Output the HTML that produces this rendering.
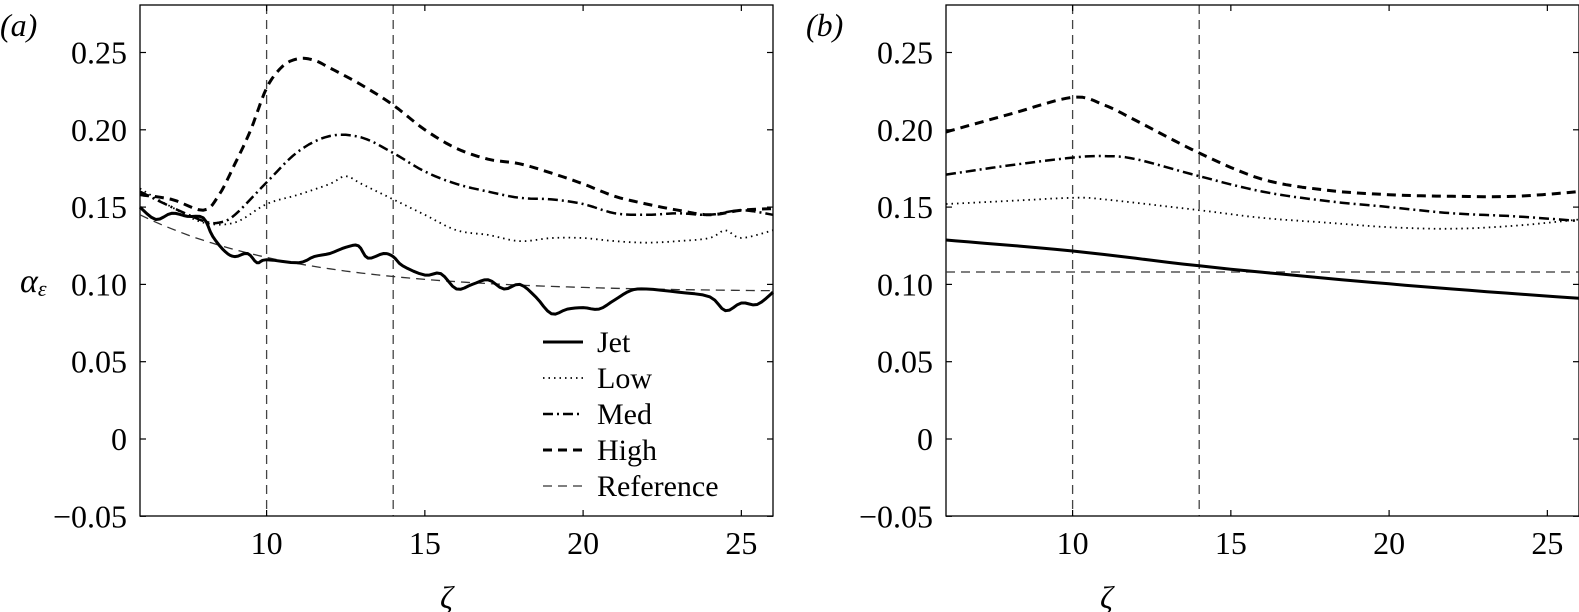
<!DOCTYPE html>
<html><head><meta charset="utf-8"><style>
html,body{margin:0;padding:0;background:#fff;}
svg{display:block;}
svg text{font-family:"Liberation Serif","Times New Roman",serif !important;fill:#000;}
</style></head><body>
<svg id="s" width="1579" height="612" xmlns="http://www.w3.org/2000/svg" font-family="Liberation Serif, serif" style="font-family:'Liberation Serif',serif">
<g font-size="32">
<text x="0" y="36" font-style="italic">(a)</text>
<text x="806" y="36" font-style="italic">(b)</text>
<text x="20" y="292" font-style="italic" font-size="34">α<tspan font-size="22" dy="4">ε</tspan></text>
<text x="440" y="608" font-style="italic">ζ</text>
<text x="1100" y="608" font-style="italic">ζ</text>
</g>
<g id="g"></g>
<g font-size="30">
<line x1="543" y1="342" x2="583" y2="342" stroke="#000" stroke-width="3"/>
<line x1="543" y1="378" x2="583" y2="378" stroke="#000" stroke-width="1.8" stroke-dasharray="1.5 4"/>
<line x1="543" y1="414" x2="583" y2="414" stroke="#000" stroke-width="2.5" stroke-dasharray="10 4 2 4"/>
<line x1="543" y1="450" x2="583" y2="450" stroke="#000" stroke-width="3" stroke-dasharray="9 6"/>
<line x1="543" y1="486" x2="583" y2="486" stroke="#333" stroke-width="1.3" stroke-dasharray="9 6"/>
<text x="597" y="352">Jet</text>
<text x="597" y="388">Low</text>
<text x="597" y="424">Med</text>
<text x="597" y="460">High</text>
<text x="597" y="496">Reference</text>
</g>
</svg>
<script>
var NS="http://www.w3.org/2000/svg",g=document.getElementById('g');
function el(t,a,txt){var e=document.createElementNS(NS,t);for(var k in a)e.setAttribute(k,a[k]);if(txt!=null)e.textContent=txt;g.appendChild(e);return e;}
var Y=function(v){return 439-v*1546;};
function panel(L,R){
 var X=function(z){return L+(z-6)*(R-L)/20;};
 [10,14].forEach(function(z){el('line',{x1:X(z),y1:5,x2:X(z),y2:516,stroke:'#444','stroke-width':1.3,'stroke-dasharray':'9 6'});});
 el('rect',{x:L,y:5,width:R-L,height:511,fill:'none',stroke:'#000','stroke-width':1.3});
 [10,15,20,25].forEach(function(z){var x=X(z);el('line',{x1:x,y1:516,x2:x,y2:510,stroke:'#000','stroke-width':1.2});el('line',{x1:x,y1:5,x2:x,y2:11,stroke:'#000','stroke-width':1.2});
  el('text',{x:x,y:554,'text-anchor':'middle','font-size':32},String(z));});
 var labs=['\u22120.05','0','0.05','0.10','0.15','0.20','0.25'];
 for(var i=0;i<7;i++){var v=-0.05+0.05*i,y=Y(v);el('line',{x1:L,y1:y,x2:L+6,y2:y,stroke:'#000','stroke-width':1.2});el('line',{x1:R,y1:y,x2:R-6,y2:y,stroke:'#000','stroke-width':1.2});
  el('text',{x:L-13,y:y+11,'text-anchor':'end','font-size':32},labs[i]);}
 return X;
}
function curve(X,pts,st){var d='';pts.forEach(function(p,i){d+=(i?'L':'M')+X(p[0]).toFixed(1)+','+Y(p[1]).toFixed(1);});
 var a={d:d,fill:'none',stroke:'#000','stroke-linejoin':'round'};for(var k in st)a[k]=st[k];el('path',a);}
function smooth(pts,n){var out=[];for(var i=0;i<pts.length-1;i++){var p0=pts[Math.max(i-1,0)],p1=pts[i],p2=pts[i+1],p3=pts[Math.min(i+2,pts.length-1)];
 for(var t=0;t<1;t+=1/n){var t2=t*t,t3=t2*t;var f=function(a,b,c,d){return 0.5*(2*b+(-a+c)*t+(2*a-5*b+4*c-d)*t2+(-a+3*b-3*c+d)*t3);};
 out.push([f(p0[0],p1[0],p2[0],p3[0]),f(p0[1],p1[1],p2[1],p3[1])]);}}out.push(pts[pts.length-1]);return out;}
var sJet={'stroke-width':3},sLow={'stroke-width':1.8,'stroke-dasharray':'1.5 4'},sMed={'stroke-width':2.5,'stroke-dasharray':'10 4 2 4'},sHigh={'stroke-width':3,'stroke-dasharray':'9 6'},sRef={'stroke-width':1.3,stroke:'#333','stroke-dasharray':'9 6'};
var Xa=panel(140,773);
var ref=[];for(var z=6;z<=26.001;z+=0.25)ref.push([z,0.095+0.05*Math.exp(-(z-6)/5)]);
curve(Xa,ref,sRef);
curve(Xa,smooth([[6,0.158],[7,0.155],[8,0.148],[8.5,0.158],[9,0.178],[9.5,0.2],[10,0.227],[10.5,0.241],[11,0.246],[11.5,0.245],[12,0.24],[13,0.229],[14,0.216],[15,0.2],[16,0.188],[17,0.181],[18,0.178],[19,0.172],[20,0.165],[21,0.157],[22,0.152],[23,0.148],[24,0.145],[25,0.148],[26,0.149]],6),sHigh);
curve(Xa,smooth([[6,0.16],[7,0.15],[8,0.141],[8.5,0.14],[9,0.145],[10,0.166],[11,0.186],[12,0.196],[13,0.195],[14,0.185],[15,0.173],[16,0.165],[17,0.16],[18,0.156],[19,0.155],[20,0.152],[21,0.146],[22,0.145],[23,0.146],[24,0.145],[25,0.148],[26,0.145]],6),sMed);
curve(Xa,smooth([[6,0.162],[7,0.15],[8,0.14],[9,0.14],[10,0.152],[11,0.158],[12,0.165],[12.5,0.17],[13,0.165],[14,0.155],[15,0.145],[16,0.135],[17,0.132],[18,0.128],[19,0.13],[20,0.13],[21,0.128],[22,0.127],[23,0.128],[24,0.13],[24.5,0.135],[25,0.13],[26,0.135]],6),sLow);
curve(Xa,smooth([[6,0.15],[6.5,0.142],[7,0.146],[7.5,0.144],[8,0.143],[8.3,0.131],[8.7,0.121],[9,0.118],[9.4,0.12],[9.7,0.114],[10,0.116],[11,0.114],[11.5,0.118],[12,0.12],[12.5,0.124],[12.9,0.125],[13.2,0.117],[13.7,0.12],[14,0.118],[14.3,0.112],[15,0.106],[15.5,0.107],[16,0.097],[16.5,0.1],[17,0.103],[17.5,0.097],[18,0.1],[18.5,0.092],[19,0.081],[19.5,0.084],[20,0.085],[20.5,0.084],[21,0.09],[21.5,0.096],[22,0.097],[23,0.095],[24,0.092],[24.5,0.083],[25,0.088],[25.5,0.087],[26,0.095]],4),sJet);
var Xb=panel(946,1579);
curve(Xb,[[6,0.108],[26,0.108]],sRef);
curve(Xb,smooth([[6,0.1986],[8,0.21],[10,0.221],[11,0.216],[12,0.206],[14,0.185],[16,0.168],[18,0.161],[20,0.158],[22,0.157],[24,0.157],[26,0.16]],8),sHigh);
curve(Xb,smooth([[6,0.171],[8,0.177],[10,0.182],[11,0.183],[12,0.181],[14,0.17],[16,0.16],[18,0.154],[20,0.15],[22,0.146],[24,0.144],[26,0.141]],8),sMed);
curve(Xb,smooth([[6,0.152],[8,0.154],[10,0.156],[11,0.155],[14,0.148],[16,0.143],[18,0.14],[20,0.137],[22,0.136],[24,0.138],[26,0.142]],8),sLow);
curve(Xb,smooth([[6,0.1287],[10,0.1216],[14,0.112],[18,0.104],[22,0.097],[26,0.091]],8),sJet);
</script>
</body></html>
